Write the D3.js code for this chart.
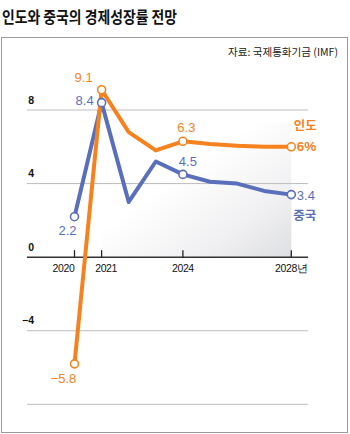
<!DOCTYPE html>
<html>
<head>
<meta charset="utf-8">
<script src="https://cdn.jsdelivr.net/npm/d3@7"></script>
<style>
  body { margin: 0; background: #fff; }
  svg { display: block; }
  text { font-family: "Liberation Sans", Arial, sans-serif; }
  .kr { font-family: "Noto Sans CJK KR", "Noto Sans", sans-serif; }
</style>
</head>
<body>
<svg id="chart" width="350" height="434"></svg>
<script>
// Données (FMI) : croissance du PIB, en %
const years = [2020, 2021, 2022, 2023, 2024, 2025, 2026, 2027, 2028];
const india = [-5.8, 9.1, 6.8, 5.8, 6.3, 6.15, 6.05, 6.0, 6.0];
const china = [2.2, 8.4, 3.0, 5.2, 4.5, 4.1, 4.0, 3.6, 3.4];
const yTicks = [8, 4, 0, -4, -8];
const yTickLabels = ["8", "4", "0", "\u22124", ""];
const xTicks = [2020, 2021, 2024, 2028];
const xTickLabels = ["2020", "2021", "2024", "2028년"];
const markedYears = [2020, 2021, 2024, 2028];

const orange = "#f5821f";
const blue = "#5a6fbc";

const svg = d3.select("#chart");

// Cadre
svg.append("rect")
    .attr("x", 1.5).attr("y", 37.5)
    .attr("width", 346).attr("height", 395)
    .attr("fill", "none")
    .attr("stroke", "#9a9a9a")
    .attr("stroke-width", 1);

// Titre
svg.append("text")
    .attr("class", "kr")
    .attr("x", 2).attr("y", 22.5)
    .attr("font-size", 16)
    .attr("font-weight", 700)
    .attr("fill", "#111")
    .attr("textLength", 175)
    .attr("lengthAdjust", "spacingAndGlyphs")
    .text("인도와 중국의 경제성장률 전망");

// Source
svg.append("text")
    .attr("class", "kr")
    .attr("x", 338).attr("y", 56)
    .attr("text-anchor", "end")
    .attr("font-size", 10.5)
    .attr("fill", "#222")
    .attr("textLength", 110)
    .attr("lengthAdjust", "spacingAndGlyphs")
    .text("자료: 국제통화기금 (IMF)");

// Echelles
const x = d3.scaleLinear().domain([2020, 2028]).range([74.5, 291.3]);
const y = d3.scaleLinear().domain([-8, 8]).range([404.3, 110]);
const left = 27, right = 308;

// Fond dégradé (léger, plus sombre en bas à droite)
const defs = svg.append("defs");
const grad = defs.append("linearGradient")
    .attr("id", "shade")
    .attr("x1", "0%").attr("y1", "0%")
    .attr("x2", "100%").attr("y2", "100%");
grad.append("stop").attr("offset", "0%").attr("stop-color", "#ffffff");
grad.append("stop").attr("offset", "40%").attr("stop-color", "#ffffff");
grad.append("stop").attr("offset", "75%").attr("stop-color", "#f0f0f2");
grad.append("stop").attr("offset", "100%").attr("stop-color", "#dedfe2");

svg.append("rect")
    .attr("x", x(2021)).attr("y", y(7.3))
    .attr("width", x(2028) - x(2021))
    .attr("height", y(0) - y(7.3))
    .attr("fill", "url(#shade)");

// Grille horizontale
svg.selectAll(".grid")
    .data(yTicks.filter(d => d !== 0))
    .enter()
    .append("line")
    .attr("x1", left).attr("x2", right)
    .attr("y1", d => y(d)).attr("y2", d => y(d))
    .attr("stroke", "#bdbdbd")
    .attr("stroke-width", 1);

// Libellés de l'axe Y
svg.selectAll(".ylab")
    .data(yTicks)
    .enter()
    .append("text")
    .attr("x", 34)
    .attr("y", d => y(d) - 6.5)
    .attr("text-anchor", "end")
    .attr("font-size", 10.5)
    .attr("font-weight", 700)
    .attr("fill", "#111")
    .text((d, i) => yTickLabels[i]);

// Axe zéro + graduations
svg.append("line")
    .attr("x1", left).attr("x2", right)
    .attr("y1", y(0)).attr("y2", y(0))
    .attr("stroke", "#333")
    .attr("stroke-width", 1.5);

svg.selectAll(".xtick")
    .data(xTicks)
    .enter()
    .append("line")
    .attr("x1", d => x(d)).attr("x2", d => x(d))
    .attr("y1", y(0)).attr("y2", y(0) - 7)
    .attr("stroke", "#222")
    .attr("stroke-width", 1.3);

const xLabelShift = [-11, 4.5, 0, 0];
svg.selectAll(".xlab")
    .data(xTicks)
    .enter()
    .append("text")
    .attr("x", (d, i) => x(d) + xLabelShift[i])
    .attr("y", y(0) + 15)
    .attr("text-anchor", "middle")
    .attr("font-size", 10.5)
    .attr("fill", "#111")
    .attr("letter-spacing", -0.4)
    .text((d, i) => xTickLabels[i]);

// Lignes
const line = d3.line()
    .x((d, i) => x(years[i]))
    .y(d => y(d));

[[china, blue], [india, orange]].forEach(([values, color]) => {
    svg.append("path")
        .datum(values)
        .attr("d", line)
        .attr("fill", "none")
        .attr("stroke", color)
        .attr("stroke-width", 4)
        .attr("stroke-linejoin", "round")
        .attr("stroke-linecap", "round");
});

// Points marqués
[[china, blue], [india, orange]].forEach(([values, color]) => {
    svg.selectAll(null)
        .data(markedYears)
        .enter()
        .append("circle")
        .attr("cx", d => x(d))
        .attr("cy", d => y(values[years.indexOf(d)]))
        .attr("r", 4)
        .attr("fill", "#fff")
        .attr("stroke", color)
        .attr("stroke-width", 1.6);
});

// Etiquettes de valeurs
const fmt = v => (v < 0 ? "\u2212" : "") + Math.abs(v).toFixed(1);
const valueLabels = [
    { s: india, yr: 2020, dx: -11, dy: 19.5, anchor: "middle", txt: fmt(india[0]) },
    { s: india, yr: 2021, dx: -18, dy: -7.5, anchor: "middle", txt: fmt(india[1]) },
    { s: china, yr: 2021, dx: -17, dy: 2, anchor: "middle", txt: fmt(china[1]) },
    { s: china, yr: 2020, dx: -7, dy: 18.5, anchor: "middle", txt: fmt(china[0]) },
    { s: india, yr: 2024, dx: 3.5, dy: -9.5, anchor: "middle", txt: fmt(india[4]) },
    { s: china, yr: 2024, dx: 5, dy: -8.5, anchor: "middle", txt: fmt(china[4]) },
    { s: china, yr: 2028, dx: 5.5, dy: 5, anchor: "start", txt: fmt(china[8]) }
];
svg.selectAll(".vlab")
    .data(valueLabels)
    .enter()
    .append("text")
    .attr("x", d => x(d.yr) + d.dx)
    .attr("y", d => y(d.s[years.indexOf(d.yr)]) + d.dy)
    .attr("text-anchor", d => d.anchor)
    .attr("font-size", 13)
    .attr("fill", d => d.s === india ? orange : blue)
    .text(d => d.txt);

// 6% (gras)
svg.append("text")
    .attr("x", x(2028) + 5.5)
    .attr("y", y(india[8]) + 4.5)
    .attr("font-size", 13.5)
    .attr("font-weight", 700)
    .attr("fill", orange)
    .text(Math.round(india[8]) + "%");

// Noms des pays
svg.append("text")
    .attr("class", "kr")
    .attr("x", x(2028) + 2.5)
    .attr("y", y(india[8]) - 17)
    .attr("font-size", 12.5)
    .attr("font-weight", 700)
    .attr("fill", orange)
    .text("인도");

svg.append("text")
    .attr("class", "kr")
    .attr("x", x(2028) + 2)
    .attr("y", y(china[8]) + 25.5)
    .attr("font-size", 12.5)
    .attr("font-weight", 700)
    .attr("fill", blue)
    .text("중국");
</script>
</body>
</html>
